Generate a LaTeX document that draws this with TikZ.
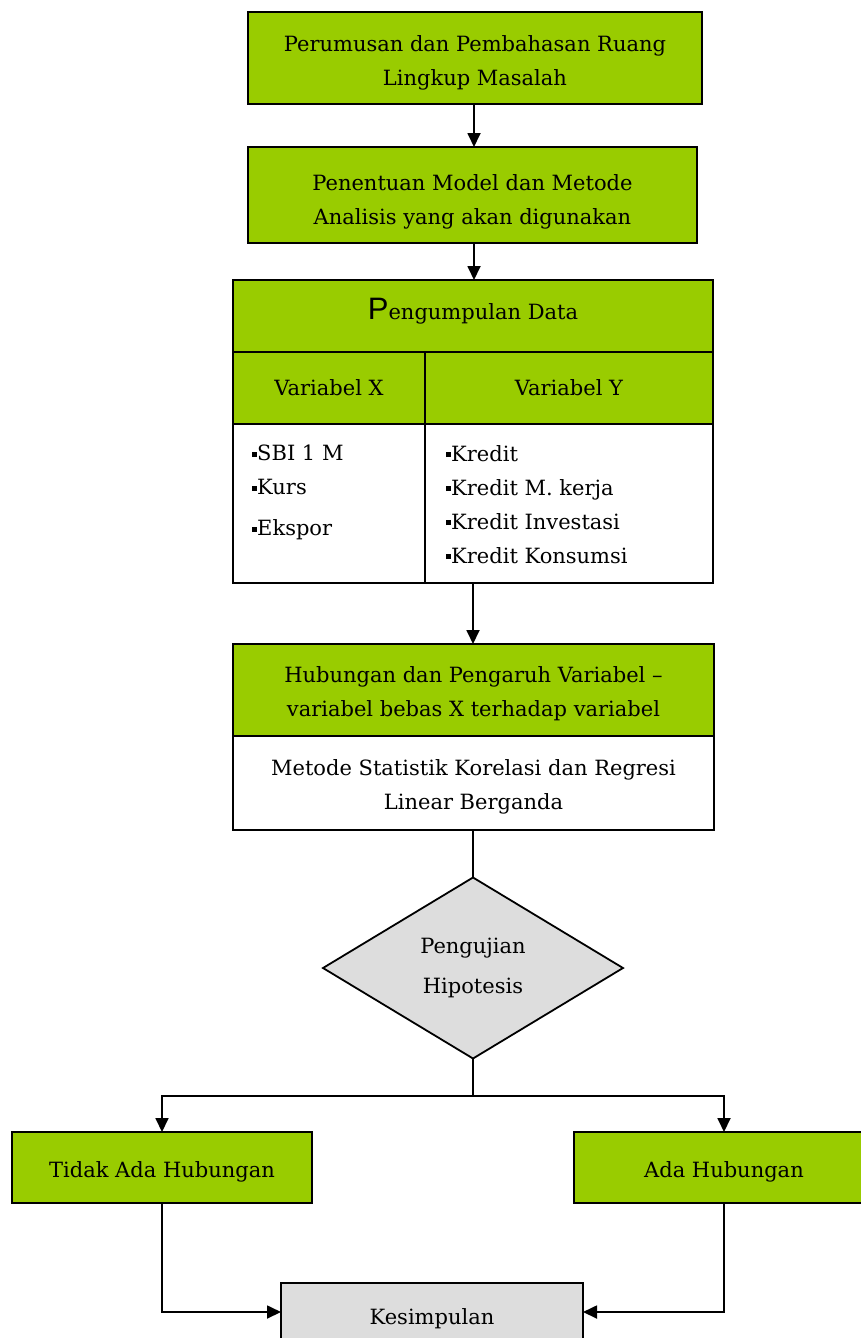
\documentclass[tikz,border=0pt]{standalone}
\usepackage{fontspec}
\setmainfont{DejaVu Serif}
\newfontfamily\psans{Liberation Sans}
\usetikzlibrary{arrows.meta,shapes.geometric}
\definecolor{grn}{HTML}{99CC00}
\definecolor{gry}{HTML}{DDDDDD}
\newcommand{\bul}{\rule[4pt]{5pt}{5pt}}
\newcommand{\dn}[2]{\raisebox{-#1}[\height][\depth]{\begin{tabular}{@{}c@{}}#2\end{tabular}}}
\tikzset{
  box/.style={draw=black, line width=1.8pt, fill=grn, inner sep=0pt, outer sep=0pt,
    align=center, font=\fontsize{21}{34}\selectfont},
  wbox/.style={box, fill=white},
  gbox/.style={box, fill=gry},
  listtxt/.style={inner sep=0pt, align=left, anchor=north west, font=\fontsize{21}{34}\selectfont},
  conn/.style={draw=black, line width=1.8pt},
  arr/.style={conn, -{Triangle[length=14pt,width=13pt]}},
  dia/.style={diamond, draw=black, line width=1.8pt, fill=gry, inner sep=0pt, outer sep=0pt,
    shape aspect=1.66, align=center, font=\fontsize{21}{40}\selectfont}
}
\begin{document}
\begin{tikzpicture}[x=1pt,y=-1pt]
\useasboundingbox (0,0) rectangle (861,1338);
\clip (0,0) rectangle (861,1338);
\fill[white] (0,0) rectangle (861,1338);

\node[box, minimum width=454pt, minimum height=92pt] (b1) at (475,58)
  {\dn{4pt}{Perumusan dan Pembahasan Ruang\\Lingkup Masalah}};
\node[box, minimum width=449pt, minimum height=96pt] (b2) at (472.5,195)
  {\dn{6pt}{Penentuan Model dan Metode\\Analisis yang akan digunakan}};

\node[box, minimum width=480pt, minimum height=72pt] (hdr) at (473,316)
  {\dn{-3pt}{{\psans\fontsize{31}{31}\selectfont P}engumpulan Data}};
\node[box, minimum width=192pt, minimum height=72pt] (vx) at (329,388) {Variabel X};
\node[box, minimum width=288pt, minimum height=72pt] (vy) at (569,388) {Variabel Y};
\node[wbox, minimum width=192pt, minimum height=159pt] (lx) at (329,503.5) {};
\node[wbox, minimum width=288pt, minimum height=159pt] (ly) at (569,503.5) {};
\node[listtxt] (lxt) at (252,445) {\bul SBI 1 M\\\bul Kurs\\[7pt]\bul Ekspor};
\node[listtxt] (lyt) at (446,445) {\bul Kredit\\\bul Kredit M. kerja\\\bul Kredit Investasi\\\bul Kredit Konsumsi};

\node[box, minimum width=481pt, minimum height=92pt] (hub) at (473.5,690)
  {\dn{3pt}{Hubungan dan Pengaruh Variabel --\\variabel bebas X terhadap variabel}};
\node[wbox, minimum width=481pt, minimum height=94pt] (hubw) at (473.5,783)
  {\dn{3pt}{Metode Statistik Korelasi dan Regresi\\Linear Berganda}};

\node[dia, minimum width=300pt, minimum height=181pt] (uji) at (473,968)
  {Pengujian\\Hipotesis};
\coordinate (split) at (473,1096);

\node[box, minimum width=300pt, minimum height=71pt] (tidak) at (162,1167.5) {\dn{3pt}{Tidak Ada Hubungan}};
\node[box, minimum width=300pt, minimum height=71pt] (ada) at (724,1167.5) {\dn{3pt}{Ada Hubungan}};
\node[gbox, minimum width=302pt, minimum height=71pt] (kes) at (432,1318.5) {Kesimpulan};

\draw[arr] (b1.south -| 474,0) -- (474,147);
\draw[arr] (b2.south -| 474,0) -- (hdr.north -| 474,0);
\draw[arr] (ly.south -| 473,0) -- (hub.north -| 473,0);
\draw[conn] (uji.north |- hubw.south) -- (uji.north);
\draw[conn] (uji.south) -- (split);
\draw[arr] (split) -| (tidak.north);
\draw[arr] (split) -| (ada.north);
\draw[arr] (tidak.south) |- ([yshift=-29pt]kes.north west);
\draw[arr] (ada.south) |- ([yshift=-29pt]kes.north east);
\end{tikzpicture}
\end{document}
